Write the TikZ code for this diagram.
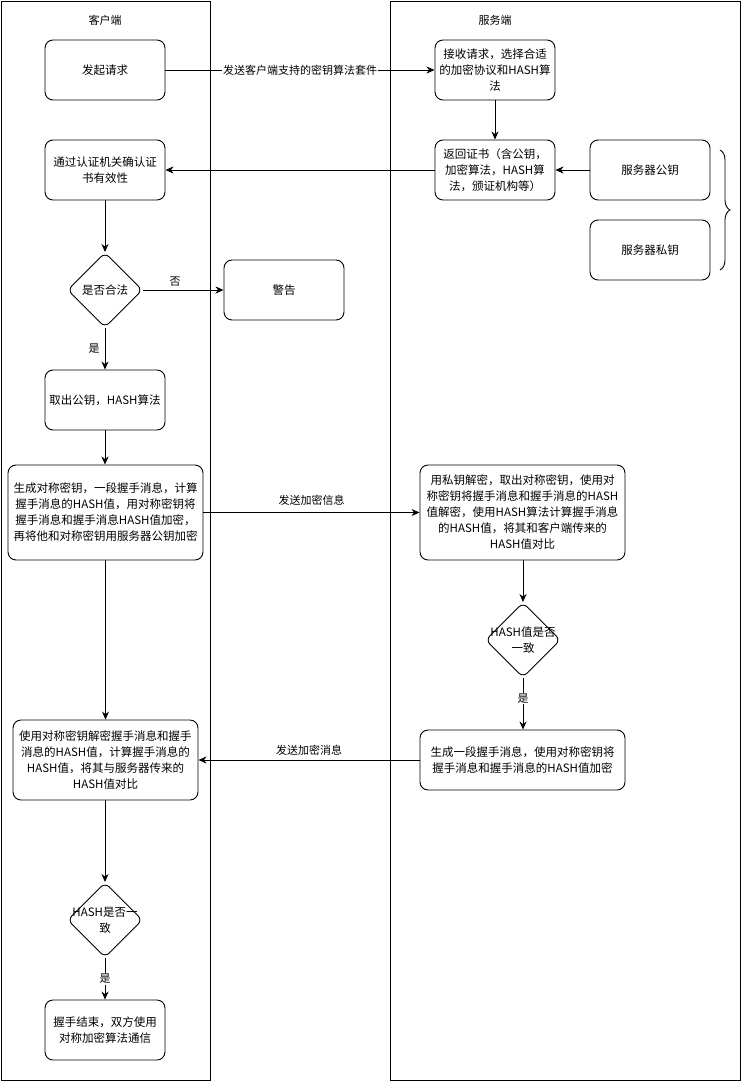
\documentclass[tikz,border=0pt]{standalone}
\usepackage{fontspec}
\setmainfont{Noto Sans CJK SC}
\usetikzlibrary{arrows.meta}
\usetikzlibrary{shapes.geometric}
\usetikzlibrary{decorations.pathreplacing}

\tikzset{
  lane/.style={draw,line width=0.9pt},
  box/.style={draw,line width=0.9pt,rounded corners=8,minimum width=120,minimum height=60,align=center,inner sep=1,font=\fontsize{11.5}{16}\selectfont},
  dia/.style={draw,line width=0.9pt,diamond,rounded corners=6,minimum width=75,minimum height=75,inner sep=0},
  dtext/.style={align=center,inner sep=0,font=\fontsize{11.5}{16}\selectfont},
  arr/.style={line width=0.9pt,-{Stealth[length=8pt,width=7pt,inset=2.5pt]}},
  lbl/.style={font=\fontsize{11}{13}\selectfont,inner sep=1},
}

\begin{document}
\begin{tikzpicture}[x=1pt,y=-1pt]

\useasboundingbox (0,0) rectangle (741,1081);

\draw[lane] (1,1) rectangle (210,1080);
\draw[lane] (390,1) rectangle (740,1080);
\node[lbl] at (105,20) {客户端};
\node[lbl] at (495,20) {服务端};

\node[box] (req) at (105,70) {发起请求};
\node[box] (verify) at (105,170) {通过认证机关确认证\\书有效性};
\node[dia] (ok) at (105,290) {};
\node[dtext] at (ok) {是否合法};
\node[box] (warn) at (284,290) {警告};
\node[box] (take) at (105,400) {取出公钥，HASH算法};
\node[box,minimum width=195,minimum height=95] (gen) at (105.5,512.5) {生成对称密钥，一段握手消息，计算\\握手消息的HASH值，用对称密钥将\\握手消息和握手消息HASH值加密，\\再将他和对称密钥用服务器公钥加密};
\node[box,minimum width=185,minimum height=80] (open) at (105.5,760) {使用对称密钥解密握手消息和握手\\消息的HASH值，计算握手消息的\\HASH值，将其与服务器传来的\\HASH值对比};
\node[dia] (same) at (105,920) {};
\node[dtext] at (same) {HASH是否一\\致};
\node[box] (done) at (105,1030) {握手结束，双方使用\\对称加密算法通信};

\node[box] (recv) at (495,70) {接收请求，选择合适\\的加密协议和HASH算\\法};
\node[box] (cert) at (495,170) {返回证书（含公钥，\\加密算法，HASH算\\法，颁证机构等）};
\node[box] (pub) at (650,170) {服务器公钥};
\node[box] (priv) at (650,250) {服务器私钥};
\node[box,minimum width=205,minimum height=95] (dec) at (522.5,512.5) {用私钥解密，取出对称密钥，使用对\\称密钥将握手消息和握手消息的HASH\\值解密，使用HASH算法计算握手消息\\的HASH值，将其和客户端传来的\\HASH值对比};
\node[dia] (hsame) at (523,640) {};
\node[dtext] at (hsame) {HASH值是否\\一致};
\node[box,minimum width=205] (reply) at (522.5,760) {生成一段握手消息，使用对称密钥将\\握手消息和握手消息的HASH值加密};

\draw[line width=0.9pt,decorate,decoration={brace,amplitude=10pt}] (720,150) -- (720,270);

\draw[arr] (req) -- (recv) node[lbl,midway,fill=white] {发送客户端支持的密钥算法套件};
\draw[arr] (recv) -- (cert);
\draw[arr] (cert) -- (verify);
\draw[arr] (pub) -- (cert);
\draw[arr] (verify) -- (ok);
\draw[arr] (ok) -- (warn) node[lbl,pos=0.4,above=2] {否};
\draw[arr] (ok) -- (take) node[lbl,midway,left=4] {是};
\draw[arr] (take) -- (take.south |- gen.north);
\draw[arr] (gen) -- (dec) node[lbl,midway,above=6] {发送加密信息};
\draw[arr] (gen.south -| open.north) -- (open);
\draw[arr] (dec.south -| hsame) -- (hsame);
\draw[arr] (hsame) -- (hsame |- reply.north) node[lbl,pos=0.4,fill=white] {是};
\draw[arr] (reply) -- (open) node[lbl,midway,above=3] {发送加密消息};
\draw[arr] (open.south -| same) -- (same);
\draw[arr] (same) -- (done) node[lbl,midway,fill=white] {是};

\end{tikzpicture}
\end{document}
